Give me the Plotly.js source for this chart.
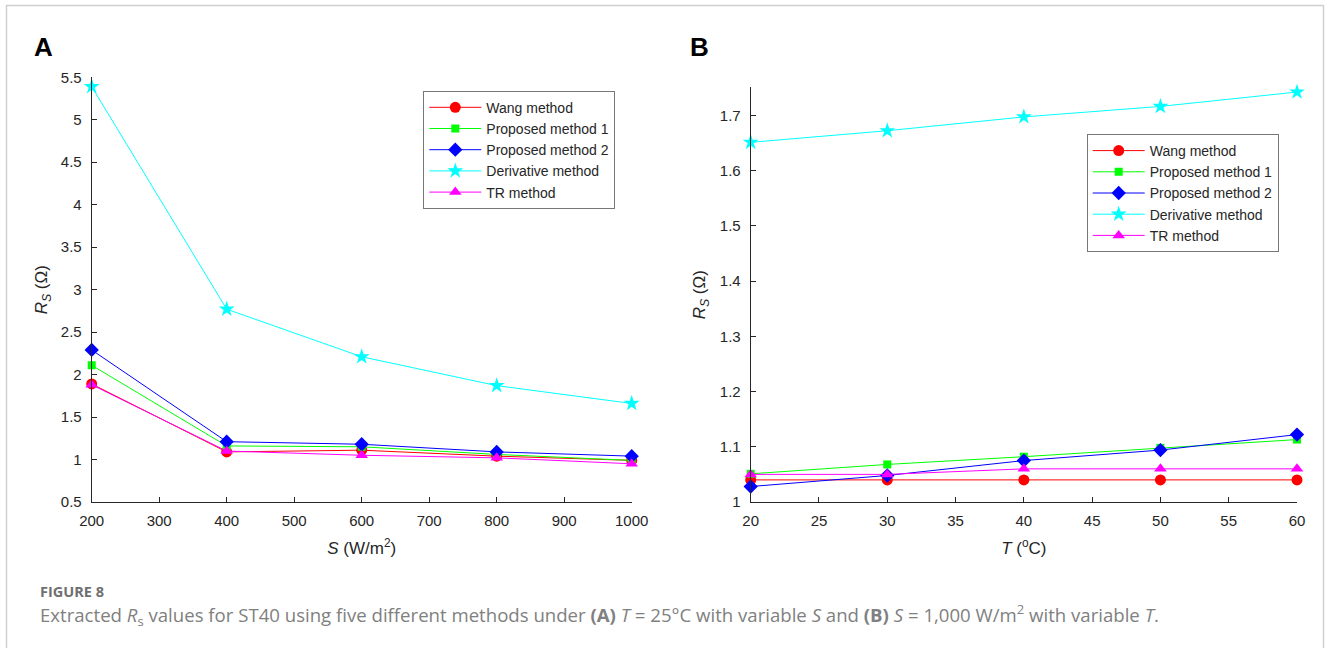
<!DOCTYPE html>
<html>
<head>
<meta charset="utf-8">
<script src="https://cdn.plot.ly/plotly-3.0.1.min.js"></script>
<style>html,body{margin:0;padding:0;background:#fff;}#chart{width:1330px;height:648px;}</style>
</head>
<body>
<div id="chart"></div>
<script>
// ---- Data ----
const methodNames = ["Wang method", "Proposed method 1", "Proposed method 2", "Derivative method", "TR method"];

// Panel A: T = 25 °C, variable irradiance S (W/m^2)
const irradianceS = [200, 400, 600, 800, 1000];
const wangA       = [1.89, 1.09, 1.11, 1.04, 0.99];
const proposed1A  = [2.11, 1.16, 1.15, 1.06, 0.99];
const proposed2A  = [2.29, 1.21, 1.18, 1.09, 1.04];
const derivativeA = [5.39, 2.77, 2.21, 1.87, 1.66];
const trA         = [1.88, 1.10, 1.05, 1.02, 0.95];

// Panel B: S = 1000 W/m^2, variable temperature T (°C)
const temperatureT = [20, 30, 40, 50, 60];
const wangB        = [1.04, 1.04, 1.04, 1.04, 1.04];
const proposed1B   = [1.051, 1.068, 1.082, 1.098, 1.113];
const proposed2B   = [1.028, 1.048, 1.075, 1.094, 1.122];
const derivativeB  = [1.651, 1.672, 1.697, 1.716, 1.742];
const trB          = [1.05, 1.05, 1.06, 1.06, 1.06];

const xTicksA = [200, 300, 400, 500, 600, 700, 800, 900, 1000];
const yTicksA = [0.5, 1, 1.5, 2, 2.5, 3, 3.5, 4, 4.5, 5, 5.5];
const xTicksB = [20, 25, 30, 35, 40, 45, 50, 55, 60];
const yTicksB = [1, 1.1, 1.2, 1.3, 1.4, 1.5, 1.6, 1.7];

// ---- Styles ----
const colors  = ["#ff0000", "#00ff00", "#0000ff", "#00ffff", "#ff00ff"];
const symbols = ["circle", "square", "diamond", "star", "triangle-up"];
const sizes   = [11, 8, 11, 12, 11];
const FONT = "Arial, 'Liberation Sans', sans-serif";
const W = 1330, H = 648;
const px = v => v / W;
const py = v => 1 - v / H;

const seriesA = [wangA, proposed1A, proposed2A, derivativeA, trA];
const seriesB = [wangB, proposed1B, proposed2B, derivativeB, trB];

const traces = [];
seriesA.forEach((ys, i) => traces.push({
  type: "scatter", mode: "lines+markers", name: methodNames[i],
  x: irradianceS, y: ys, xaxis: "x", yaxis: "y", legend: "legend",
  line: {color: colors[i], width: 1},
  marker: {color: colors[i], symbol: symbols[i], size: sizes[i], line: {width: 0}},
  cliponaxis: false
}));
seriesB.forEach((ys, i) => traces.push({
  type: "scatter", mode: "lines+markers", name: methodNames[i],
  x: temperatureT, y: ys, xaxis: "x2", yaxis: "y2", legend: "legend2",
  line: {color: colors[i], width: 1},
  marker: {color: colors[i], symbol: symbols[i], size: sizes[i], line: {width: 0}},
  cliponaxis: false
}));

const axisBase = {
  showline: true, linecolor: "#262626", linewidth: 1,
  ticks: "inside", ticklen: 5, tickwidth: 1, tickcolor: "#262626",
  showgrid: false, zeroline: false, mirror: false,
  tickfont: {family: FONT, size: 15, color: "#262626"},
  fixedrange: true
};
const titleFont = {family: FONT, size: 17, color: "#262626"};
const legendBase = {
  xanchor: "left", yanchor: "top",
  bgcolor: "#ffffff", bordercolor: "#777777", borderwidth: 1,
  font: {family: FONT, size: 14, color: "#262626"}, itemwidth: 52, tracegroupgap: 0
};

const layout = {
  width: W, height: H,
  margin: {l: 0, r: 0, t: 0, b: 0},
  paper_bgcolor: "#ffffff", plot_bgcolor: "#ffffff",
  font: {family: FONT, color: "#262626"},
  showlegend: true,
  xaxis: Object.assign({}, axisBase, {
    domain: [px(91.7), px(631.7)], anchor: "y",
    range: [200, 1000], tickvals: xTicksA, ticklabelstandoff: 5,
    title: {text: "<i>S</i> (W/m<sup>2</sup>)", font: titleFont, standoff: 14}
  }),
  yaxis: Object.assign({}, axisBase, {
    domain: [py(502), py(77.3)], anchor: "x",
    range: [0.5, 5.5], tickvals: yTicksA, ticklabelstandoff: 6,
    title: {text: "<i>R</i><sub><i>S</i></sub> (Ω)", font: titleFont, standoff: 8}
  }),
  xaxis2: Object.assign({}, axisBase, {
    domain: [px(750.7), px(1297)], anchor: "y2",
    range: [20, 60], tickvals: xTicksB, ticklabelstandoff: 5,
    title: {text: "<i>T</i> (<sup>o</sup>C)", font: titleFont, standoff: 14}
  }),
  yaxis2: Object.assign({}, axisBase, {
    domain: [py(502), py(87.3)], anchor: "x2",
    range: [1, 1.7506], tickvals: yTicksB, ticklabelstandoff: 6,
    title: {text: "<i>R</i><sub><i>S</i></sub> (Ω)", font: titleFont, standoff: 9}
  }),
  legend: Object.assign({}, legendBase, {x: px(423.3), y: py(90.7)}),
  legend2: Object.assign({}, legendBase, {x: px(1086.7), y: py(134)}),
  shapes: [
    {type: "rect", xref: "paper", yref: "paper", x0: px(6.5), x1: px(1323.5), y0: py(700), y1: py(5.5),
     line: {color: "#d0d0d0", width: 1.5}, fillcolor: "rgba(0,0,0,0)", layer: "below"}
  ],
  annotations: [
    {text: "<b>A</b>", xref: "paper", yref: "paper", x: px(43.5), y: py(46.5), xanchor: "center", yanchor: "middle",
     showarrow: false, font: {family: FONT, size: 26, color: "#000000"}},
    {text: "<b>B</b>", xref: "paper", yref: "paper", x: px(699), y: py(46.5), xanchor: "center", yanchor: "middle",
     showarrow: false, font: {family: FONT, size: 26, color: "#000000"}},
    {text: "<b>FIGURE 8</b>", xref: "paper", yref: "paper", x: px(38), y: py(591), xanchor: "left", yanchor: "middle",
     showarrow: false, font: {family: "'Open Sans', sans-serif", size: 14.5, color: "#707070"}},
    {text: "Extracted <i>R</i><sub>s</sub> values for ST40 using five different methods under <b>(A)</b> <i>T</i> = 25°C with variable <i>S</i> and <b>(B)</b> <i>S</i> = 1,000 W/m<sup>2</sup> with variable <i>T</i>.",
     xref: "paper", yref: "paper", x: px(38), y: py(615), xanchor: "left", yanchor: "middle",
     showarrow: false, font: {family: "'Open Sans', sans-serif", size: 18.6, color: "#808080"}}
  ]
};

Plotly.newPlot("chart", traces, layout, {displayModeBar: false, staticPlot: true});
</script>
</body>
</html>
